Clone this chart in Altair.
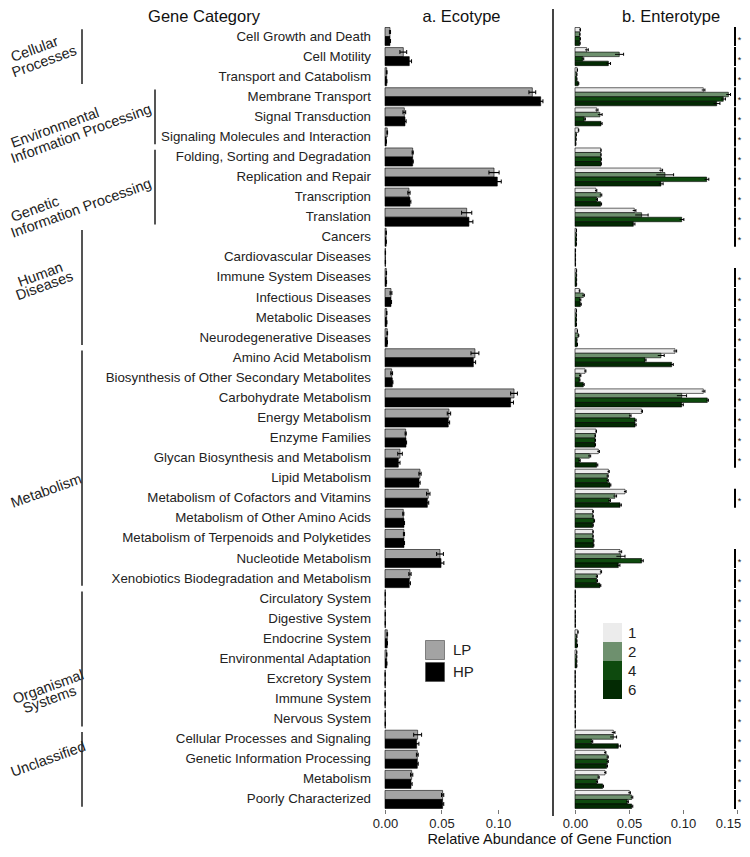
import altair as alt
import pandas as pd

categories = [
    "Cell Growth and Death", "Cell Motility", "Transport and Catabolism",
    "Membrane Transport", "Signal Transduction", "Signaling Molecules and Interaction",
    "Folding, Sorting and Degradation", "Replication and Repair", "Transcription", "Translation",
    "Cancers", "Cardiovascular Diseases", "Immune System Diseases", "Infectious Diseases",
    "Metabolic Diseases", "Neurodegenerative Diseases",
    "Amino Acid Metabolism", "Biosynthesis of Other Secondary Metabolites", "Carbohydrate Metabolism",
    "Energy Metabolism", "Enzyme Families", "Glycan Biosynthesis and Metabolism", "Lipid Metabolism",
    "Metabolism of Cofactors and Vitamins", "Metabolism of Other Amino Acids",
    "Metabolism of Terpenoids and Polyketides", "Nucleotide Metabolism",
    "Xenobiotics Biodegradation and Metabolism",
    "Circulatory System", "Digestive System", "Endocrine System", "Environmental Adaptation",
    "Excretory System", "Immune System", "Nervous System",
    "Cellular Processes and Signaling", "Genetic Information Processing", "Metabolism",
    "Poorly Characterized",
]
group_names = ["Cellular Processes", "Environmental Information Processing",
               "Genetic Information Processing", "Human Diseases", "Metabolism",
               "Organismal Systems", "Unclassified"]
group_sizes = [3, 3, 4, 6, 12, 7, 4]
inner_groups = ["Environmental Information Processing", "Genetic Information Processing"]

eco_groups = ["LP", "HP"]
eco_lp = [0.0044, 0.0162, 0.0015, 0.1304, 0.0171, 0.0020, 0.0245, 0.0965, 0.0212, 0.0723,
          0.0010, 0.0004, 0.0012, 0.0053, 0.0015, 0.0020, 0.0796, 0.0059, 0.1142, 0.0566,
          0.0183, 0.0133, 0.0310, 0.0383, 0.0162, 0.0168, 0.0487, 0.0221, 0.0003, 0.0003,
          0.0020, 0.0015, 0.0002, 0.0002, 0.0003, 0.0289, 0.0286, 0.0236, 0.0510]
eco_hp = [0.0044, 0.0215, 0.0015, 0.1378, 0.0177, 0.0011, 0.0245, 0.0994, 0.0221, 0.0743,
          0.0010, 0.0004, 0.0012, 0.0053, 0.0015, 0.0020, 0.0782, 0.0065, 0.1112, 0.0560,
          0.0186, 0.0118, 0.0301, 0.0375, 0.0168, 0.0168, 0.0496, 0.0215, 0.0003, 0.0003,
          0.0020, 0.0015, 0.0002, 0.0002, 0.0003, 0.0280, 0.0286, 0.0230, 0.0510]
eco_lp_err = [0.0005, 0.0030, 0.0003, 0.0030, 0.0012, 0.0003, 0.0005, 0.0045, 0.0010, 0.0045,
              0.0002, 0.0001, 0.0002, 0.0008, 0.0002, 0.0003, 0.0035, 0.0008, 0.0030, 0.0015,
              0.0005, 0.0020, 0.0010, 0.0015, 0.0005, 0.0005, 0.0030, 0.0010, 0.0001, 0.0001,
              0.0003, 0.0002, 0.0001, 0.0001, 0.0001, 0.0035, 0.0008, 0.0010, 0.0010]
eco_hp_err = [0.0005, 0.0020, 0.0002, 0.0020, 0.0010, 0.0002, 0.0005, 0.0035, 0.0008, 0.0035,
              0.0002, 0.0001, 0.0002, 0.0005, 0.0002, 0.0002, 0.0020, 0.0005, 0.0025, 0.0012,
              0.0005, 0.0015, 0.0010, 0.0012, 0.0005, 0.0005, 0.0025, 0.0010, 0.0001, 0.0001,
              0.0002, 0.0002, 0.0001, 0.0001, 0.0001, 0.0020, 0.0008, 0.0010, 0.0010]

ent_groups = ["1", "2", "4", "6"]
ent_1 = [0.0046, 0.0108, 0.0020, 0.1188, 0.0201, 0.0031, 0.0238, 0.0796, 0.0194, 0.0549,
         0.0012, 0.0004, 0.0013, 0.0040, 0.0012, 0.0020, 0.0926, 0.0093, 0.1188, 0.0617,
         0.0194, 0.0216, 0.0309, 0.0463, 0.0164, 0.0164, 0.0417, 0.0238, 0.0003, 0.0003,
         0.0025, 0.0015, 0.0002, 0.0002, 0.0003, 0.0355, 0.0278, 0.0278, 0.0503]
ent_2 = [0.0042, 0.0410, 0.0015, 0.1420, 0.0231, 0.0010, 0.0238, 0.0833, 0.0238, 0.0617,
         0.0012, 0.0004, 0.0013, 0.0077, 0.0012, 0.0030, 0.0796, 0.0046, 0.0988, 0.0509,
         0.0185, 0.0133, 0.0300, 0.0370, 0.0164, 0.0164, 0.0423, 0.0200, 0.0003, 0.0003,
         0.0015, 0.0015, 0.0002, 0.0002, 0.0003, 0.0355, 0.0300, 0.0216, 0.0525]
ent_4 = [0.0045, 0.0071, 0.0015, 0.1373, 0.0086, 0.0008, 0.0240, 0.1219, 0.0200, 0.0988,
         0.0012, 0.0004, 0.0013, 0.0046, 0.0012, 0.0015, 0.0648, 0.0040, 0.1225, 0.0556,
         0.0185, 0.0040, 0.0300, 0.0318, 0.0176, 0.0170, 0.0617, 0.0200, 0.0003, 0.0003,
         0.0015, 0.0015, 0.0002, 0.0002, 0.0003, 0.0154, 0.0300, 0.0201, 0.0484]
ent_6 = [0.0043, 0.0309, 0.0030, 0.1312, 0.0241, 0.0006, 0.0240, 0.0796, 0.0238, 0.0540,
         0.0012, 0.0004, 0.0013, 0.0050, 0.0012, 0.0020, 0.0895, 0.0077, 0.0988, 0.0556,
         0.0185, 0.0201, 0.0324, 0.0417, 0.0164, 0.0170, 0.0401, 0.0231, 0.0003, 0.0003,
         0.0020, 0.0015, 0.0002, 0.0002, 0.0003, 0.0401, 0.0293, 0.0256, 0.0525]
ent_1_err = [0.0005, 0.0015, 0.0003, 0.0015, 0.0012, 0.0004, 0.0004, 0.0015, 0.0008, 0.0015,
             0.0002, 0.0001, 0.0002, 0.0005, 0.0002, 0.0003, 0.0015, 0.0008, 0.0015, 0.0008,
             0.0005, 0.0010, 0.0008, 0.0010, 0.0005, 0.0005, 0.0015, 0.0008, 0.0001, 0.0001,
             0.0004, 0.0002, 0.0001, 0.0001, 0.0001, 0.0015, 0.0008, 0.0008, 0.0010]
ent_2_err = [0.0005, 0.0040, 0.0003, 0.0020, 0.0020, 0.0003, 0.0004, 0.0080, 0.0010, 0.0060,
             0.0002, 0.0001, 0.0002, 0.0010, 0.0002, 0.0005, 0.0030, 0.0008, 0.0045, 0.0010,
             0.0005, 0.0012, 0.0008, 0.0015, 0.0005, 0.0005, 0.0040, 0.0008, 0.0001, 0.0001,
             0.0003, 0.0002, 0.0001, 0.0001, 0.0001, 0.0030, 0.0008, 0.0008, 0.0010]
ent_4_err = [0.0005, 0.0010, 0.0003, 0.0020, 0.0010, 0.0003, 0.0004, 0.0020, 0.0008, 0.0020,
             0.0002, 0.0001, 0.0002, 0.0008, 0.0002, 0.0003, 0.0010, 0.0006, 0.0010, 0.0010,
             0.0005, 0.0008, 0.0008, 0.0010, 0.0005, 0.0005, 0.0015, 0.0008, 0.0001, 0.0001,
             0.0003, 0.0002, 0.0001, 0.0001, 0.0001, 0.0010, 0.0008, 0.0008, 0.0010]
ent_6_err = [0.0005, 0.0020, 0.0005, 0.0030, 0.0010, 0.0002, 0.0004, 0.0020, 0.0008, 0.0015,
             0.0002, 0.0001, 0.0002, 0.0008, 0.0002, 0.0003, 0.0015, 0.0008, 0.0015, 0.0010,
             0.0005, 0.0010, 0.0008, 0.0012, 0.0005, 0.0005, 0.0015, 0.0008, 0.0001, 0.0001,
             0.0003, 0.0002, 0.0001, 0.0001, 0.0001, 0.0020, 0.0008, 0.0008, 0.0010]

sig_flags = [1] * 11 + [0] + [1] * 10 + [0] + [1] + [0, 0] + [1] * 13

glabel_text = ["Cellular", "Processes", "Environmental", "Information Processing",
               "Genetic", "Information Processing", "Human", "Diseases", "Metabolism",
               "Organismal", "Systems", "Unclassified"]
panel_titles = ["Gene Category", "a. Ecotype", "b. Enterotype"]
x_title = "Relative Abundance of Gene Function"

# ---------------- layout (pixels inside the view; page = view + 8) ----------------
FONT = "Liberation Sans"
W, H = 725, 801.5
Y_RANGE = [18.5, 801.5]
XA_RANGE = [377, 545]
XB_RANGE = [567, 729]
glabel_pos = [(5, 54), (6, 69.5), (5, 140), (5, 155.5), (5, 214), (5, 230),
              (12, 279), (10, 292.5), (5, 500), (7, 696), (17, 705.5), (5, 769)]
title_pos = [196, 453.5, 663]
TITLE_Y = 8.5
SIG_X, MARK_X = 727, 731.5

yscale = alt.Scale(domain=categories, range=Y_RANGE, paddingInner=0.1, paddingOuter=0.05)

# ---------------- tables ----------------
cat_df = pd.DataFrame({"cat": categories})
firsts, lasts, idx = [], [], 0
for s in group_sizes:
    firsts.append(categories[idx])
    lasts.append(categories[idx + s - 1])
    idx += s
grp_df = pd.DataFrame({"group": group_names, "first": firsts, "last": lasts,
                       "inner": [g in inner_groups for g in group_names]})

eco_rows = []
for i, c in enumerate(categories):
    for g, v, e in (("LP", eco_lp[i], eco_lp_err[i]), ("HP", eco_hp[i], eco_hp_err[i])):
        eco_rows.append({"cat": c, "group": g, "value": v, "lo": v - e, "hi": v + e})
eco_df = pd.DataFrame(eco_rows)

ent_rows = []
ent_vals = {"1": (ent_1, ent_1_err), "2": (ent_2, ent_2_err),
            "4": (ent_4, ent_4_err), "6": (ent_6, ent_6_err)}
for i, c in enumerate(categories):
    for g in ent_groups:
        v, e = ent_vals[g][0][i], ent_vals[g][1][i]
        ent_rows.append({"cat": c, "etype": g, "value": v, "lo": v - e, "hi": v + e})
ent_df = pd.DataFrame(ent_rows)
sig_df = pd.DataFrame({"cat": [c for c, f in zip(categories, sig_flags) if f]})
one_df = pd.DataFrame({"a": [0]})

# ---------------- left side ----------------
cat_text = alt.Chart(cat_df).mark_text(
    align="right", baseline="middle", fontSize=13.3, color="#222", font=FONT
).encode(y=alt.Y("cat:N", scale=yscale, axis=None), x=alt.value(363), text="cat:N")

outer_lines = alt.Chart(grp_df).transform_filter("!datum.inner").mark_rule(
    color="#555", strokeWidth=2
).encode(
    x=alt.value(74),
    y=alt.Y("first:N", scale=yscale, axis=None, bandPosition=0.1),
    y2=alt.Y2("last:N", bandPosition=0.9),
)
inner_lines = alt.Chart(grp_df).transform_filter("datum.inner").mark_rule(
    color="#555", strokeWidth=2
).encode(
    x=alt.value(147),
    y=alt.Y("first:N", scale=yscale, axis=None, bandPosition=0.1),
    y2=alt.Y2("last:N", bandPosition=0.9),
)

text_layers = []
for t, (px, py) in zip(glabel_text, glabel_pos):
    text_layers.append(alt.Chart(one_df).mark_text(
        text=t, align="left", baseline="alphabetic", angle=340, fontSize=14.5,
        color="#222", font=FONT).encode(x=alt.value(px), y=alt.value(py)))
for t, px in zip(panel_titles, title_pos):
    text_layers.append(alt.Chart(one_df).mark_text(
        text=t, align="center", baseline="middle", fontSize=16.5, color="#111",
        font=FONT).encode(x=alt.value(px), y=alt.value(TITLE_Y)))

# ---------------- panel a ----------------
axis_common = dict(orient="bottom", format=".2f", grid=False, domain=False, tickSize=4,
                   tickColor="#777", labelFontSize=13, labelColor="#222", labelFont=FONT,
                   labelPadding=4, labelFlush=False)
bars_a = alt.Chart(eco_df).mark_bar(stroke="black", strokeWidth=0.6).encode(
    x=alt.X("value:Q",
            scale=alt.Scale(domain=[0, 0.1487], range=XA_RANGE, nice=False, zero=True),
            axis=alt.Axis(values=[0, 0.05, 0.10], title=x_title, titleX=541,
                          titleAlign="center", titleFontSize=14.5, titleFontWeight="normal",
                          titleColor="#111", titleFont=FONT, titlePadding=2, **axis_common)),
    y=alt.Y("cat:N", scale=yscale,
            axis=alt.Axis(labels=False, ticks=True, tickSize=4, domain=False, title=None,
                          position=370, tickColor="#777", grid=False)),
    yOffset=alt.YOffset("group:N", scale=alt.Scale(domain=eco_groups)),
    color=alt.Color("group:N",
                    scale=alt.Scale(domain=eco_groups, range=["#a3a3a3", "#000000"]),
                    legend=alt.Legend(title=None, orient="none", legendX=417, legendY=632,
                                      symbolType="square", symbolSize=361,
                                      symbolStrokeWidth=0.6, symbolStrokeColor="#444",
                                      labelFontSize=15, labelFont=FONT, labelColor="#222",
                                      labelOffset=8, rowPadding=0, padding=0)),
)
err_a = alt.Chart(eco_df).mark_bar(height=1.2, color="black").encode(
    x="lo:Q", x2="hi:Q", y=alt.Y("cat:N", scale=yscale), yOffset="group:N")
cap_lo_a = alt.Chart(eco_df).mark_tick(orient="vertical", size=4, thickness=1,
                                       color="black", opacity=1).encode(
    x="lo:Q", y=alt.Y("cat:N", scale=yscale), yOffset="group:N")
cap_hi_a = alt.Chart(eco_df).mark_tick(orient="vertical", size=4, thickness=1,
                                       color="black", opacity=1).encode(
    x="hi:Q", y=alt.Y("cat:N", scale=yscale), yOffset="group:N")
layer_a = alt.layer(bars_a, err_a, cap_lo_a, cap_hi_a)

# ---------------- panel b ----------------
bars_b = alt.Chart(ent_df).mark_bar(stroke="black", strokeWidth=0.6).encode(
    x=alt.X("value:Q",
            scale=alt.Scale(domain=[0, 0.15], range=XB_RANGE, nice=False, zero=True),
            axis=alt.Axis(values=[0, 0.05, 0.10, 0.15], title=None,
                          labelOffset={"condition": {"test": "datum.value >= 0.149",
                                                     "value": -9}, "value": 0},
                          **axis_common)),
    y=alt.Y("cat:N", scale=yscale, axis=None),
    yOffset=alt.YOffset("etype:N", scale=alt.Scale(domain=ent_groups)),
    color=alt.Color("etype:N",
                    scale=alt.Scale(domain=ent_groups,
                                    range=["#ececec", "#6e906e", "#0e4a0e", "#032a03"]),
                    legend=alt.Legend(title=None, orient="none", legendX=595, legendY=615,
                                      symbolType="square", symbolSize=361,
                                      symbolStrokeWidth=0, labelFontSize=15, labelFont=FONT,
                                      labelColor="#222", labelOffset=6, rowPadding=0,
                                      padding=0)),
)
err_b = alt.Chart(ent_df).mark_bar(height=1, color="black").encode(
    x="lo:Q", x2="hi:Q", y=alt.Y("cat:N", scale=yscale), yOffset="etype:N")
cap_hi_b = alt.Chart(ent_df).mark_tick(orient="vertical", size=3, thickness=1,
                                       color="black", opacity=1).encode(
    x="hi:Q", y=alt.Y("cat:N", scale=yscale), yOffset="etype:N")
layer_b = alt.layer(bars_b, err_b, cap_hi_b)

sig_ticks = alt.Chart(sig_df).mark_tick(
    orient="vertical", size=19, thickness=2, color="black", opacity=1
).encode(y=alt.Y("cat:N", scale=yscale, axis=None), x=alt.value(SIG_X))
sig_marks = alt.Chart(sig_df).mark_text(
    text="*", fontSize=9, baseline="middle", dy=3, color="#111", font=FONT
).encode(y=alt.Y("cat:N", scale=yscale, axis=None), x=alt.value(MARK_X))
separator = alt.Chart(one_df).mark_rule(color="#444", strokeWidth=2).encode(
    x=alt.value(545), y=alt.value(1), y2=alt.value(808))

chart = alt.layer(
    cat_text, outer_lines, inner_lines, *text_layers, separator, sig_ticks, sig_marks,
    layer_a, layer_b,
).resolve_scale(
    x="independent", color="independent", yOffset="independent"
).properties(width=W, height=H, padding=0).configure(font=FONT).configure_view(stroke=None)

chart.save("out.html", embed_options={"renderer": "svg", "actions": False})
